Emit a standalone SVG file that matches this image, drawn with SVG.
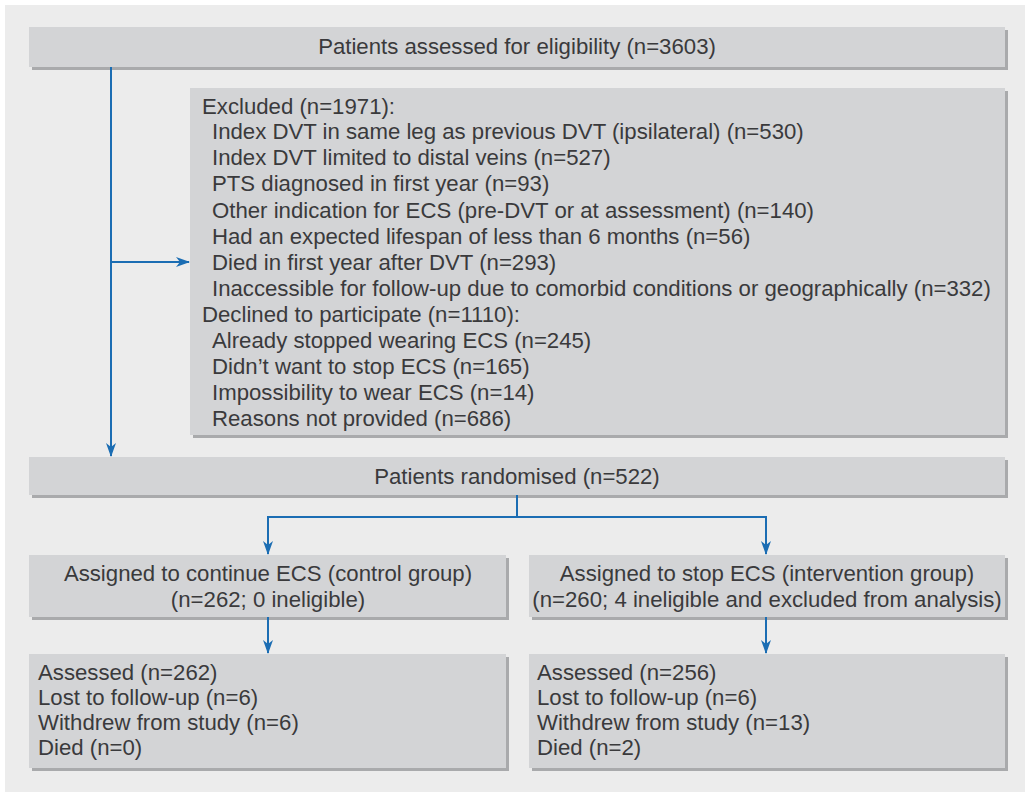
<svg xmlns="http://www.w3.org/2000/svg" width="1033" height="800" viewBox="0 0 1033 800">
<defs>
<marker id="ah" markerWidth="14" markerHeight="10" refX="13" refY="5" orient="auto" markerUnits="userSpaceOnUse">
<path d="M0,0 L14,5 L0,10 L4,5 Z" fill="#1b6db3"/>
</marker>
</defs>
<style>
.sh{fill:#a9aaac}
.bx{fill:#d3d4d6}
.t{font-family:"Liberation Sans",Arial,sans-serif;font-size:22.2px;fill:#3a3a3c}
.c{text-anchor:middle}
.ln{stroke:#1b6db3;stroke-width:2;fill:none}
</style>
<rect x="0" y="0" width="1033" height="800" fill="#ffffff"/>
<rect x="5" y="5" width="1020" height="787" fill="#ececec"/>

<g id="eligibility">
<rect class="sh" x="32" y="30" width="976" height="40"/>
<rect class="bx" x="29" y="27" width="976" height="40"/>
<text class="t c" x="517" y="54">Patients assessed for eligibility (n=3603)</text>
</g>

<g id="excluded">
<rect class="sh" x="193" y="91" width="815" height="347"/>
<rect class="bx" x="190" y="88" width="815" height="347"/>
<text class="t" x="202" y="114">Excluded (n=1971):</text>
<text class="t" x="212" y="139">Index DVT in same leg as previous DVT (ipsilateral) (n=530)</text>
<text class="t" x="212" y="165">Index DVT limited to distal veins (n=527)</text>
<text class="t" x="212" y="191">PTS diagnosed in first year (n=93)</text>
<text class="t" x="212" y="218">Other indication for ECS (pre-DVT or at assessment) (n=140)</text>
<text class="t" x="212" y="244">Had an expected lifespan of less than 6 months (n=56)</text>
<text class="t" x="212" y="270">Died in first year after DVT (n=293)</text>
<text class="t" x="212" y="296">Inaccessible for follow-up due to comorbid conditions or geographically (n=332)</text>
<text class="t" x="202" y="322">Declined to participate (n=1110):</text>
<text class="t" x="212" y="348">Already stopped wearing ECS (n=245)</text>
<text class="t" x="212" y="374">Didn’t want to stop ECS (n=165)</text>
<text class="t" x="212" y="400">Impossibility to wear ECS (n=14)</text>
<text class="t" x="212" y="426">Reasons not provided (n=686)</text>
</g>

<g id="randomised">
<rect class="sh" x="32" y="460" width="976" height="38"/>
<rect class="bx" x="29" y="457" width="976" height="38"/>
<text class="t c" x="517" y="484">Patients randomised (n=522)</text>
</g>

<g id="control">
<rect class="sh" x="32" y="558" width="477" height="62"/>
<rect class="bx" x="29" y="555" width="477" height="62"/>
<text class="t c" x="268" y="581">Assigned to continue ECS (control group)</text>
<text class="t c" x="268" y="607">(n=262; 0 ineligible)</text>
</g>

<g id="intervention">
<rect class="sh" x="532" y="558" width="476" height="62"/>
<rect class="bx" x="529" y="555" width="476" height="62"/>
<text class="t c" x="767" y="581">Assigned to stop ECS (intervention group)</text>
<text class="t c" x="767" y="607">(n=260; 4 ineligible and excluded from analysis)</text>
</g>

<g id="control-outcome">
<rect class="sh" x="32" y="657" width="477" height="114"/>
<rect class="bx" x="29" y="654" width="477" height="114"/>
<text class="t" x="38" y="680">Assessed (n=262)</text>
<text class="t" x="38" y="705">Lost to follow-up (n=6)</text>
<text class="t" x="38" y="730">Withdrew from study (n=6)</text>
<text class="t" x="38" y="755">Died (n=0)</text>
</g>

<g id="intervention-outcome">
<rect class="sh" x="532" y="657" width="476" height="114"/>
<rect class="bx" x="529" y="654" width="476" height="114"/>
<text class="t" x="537" y="680">Assessed (n=256)</text>
<text class="t" x="537" y="705">Lost to follow-up (n=6)</text>
<text class="t" x="537" y="730">Withdrew from study (n=13)</text>
<text class="t" x="537" y="755">Died (n=2)</text>
</g>

<g id="connectors">
<path class="ln" d="M111,67 V456" marker-end="url(#ah)"/>
<path class="ln" d="M111,262 H189" marker-end="url(#ah)"/>
<path class="ln" d="M517,495 V517 H268 V554" marker-end="url(#ah)"/>
<path class="ln" d="M517,517 H766 V554" marker-end="url(#ah)"/>
<path class="ln" d="M268,617 V653" marker-end="url(#ah)"/>
<path class="ln" d="M766,617 V653" marker-end="url(#ah)"/>
</g>
</svg>
